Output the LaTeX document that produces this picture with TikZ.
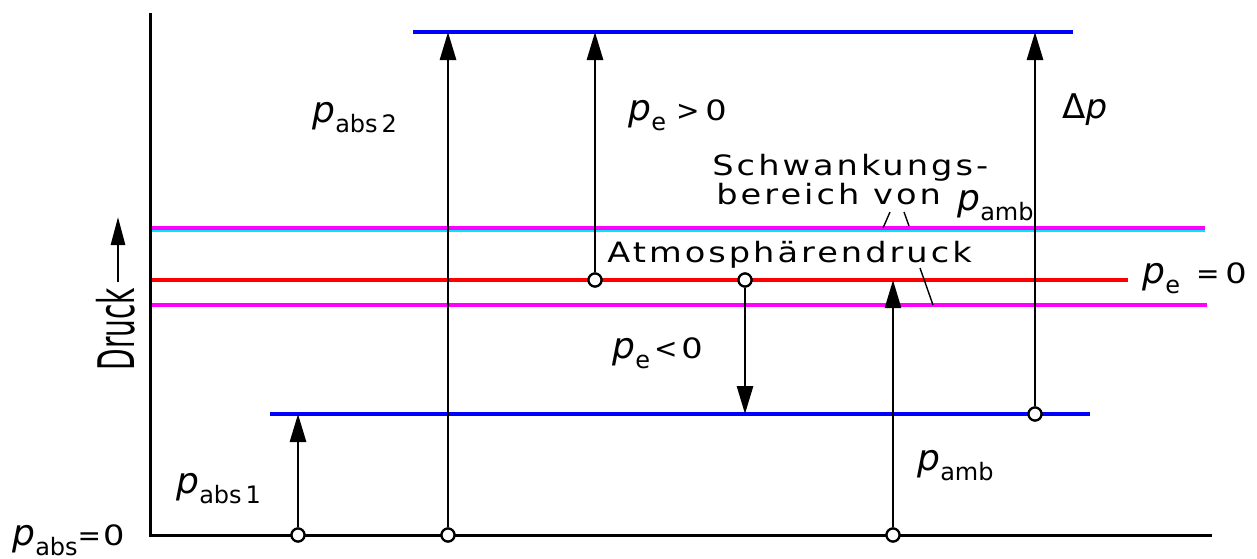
\documentclass[tikz,border=0pt]{standalone}
\usepackage{fontspec}
\setmainfont{DejaVu Sans}
\newfontfamily\spacedfont[LetterSpace=9]{DejaVu Sans}
\usetikzlibrary{arrows.meta}
\newcommand\plab[1]{{\fontsize{18}{18}\selectfont\itshape p}\raisebox{-5pt}{\fontsize{12}{12}\selectfont #1}}
\newcommand\txtsize{\fontsize{14}{13}\selectfont}
\newcommand\relsize{\fontsize{14}{15}\selectfont}
\newcommand\widen[1]{\scalebox{1.2}[1]{#1}}
\tikzset{
  axisline/.style={line width=1.5pt},
  bluelvl/.style={line width=2pt, draw={rgb,255:red,0;green,0;blue,255}},
  redlvl/.style={line width=2pt, draw={rgb,255:red,255;green,0;blue,0}},
  maglvl/.style={line width=2pt, draw={rgb,255:red,255;green,0;blue,255}},
  cyanlvl/.style={line width=0.6pt, draw={rgb,255:red,0;green,230;blue,255}},
  meas/.style={line width=1.4pt, -{Triangle[length=14pt,width=8pt]}},
  leader/.style={line width=0.7pt},
  dot/.style={circle, draw, line width=1.1pt, fill=white, inner sep=0pt, minimum size=6.5pt},
  lbl/.style={inner sep=0pt, anchor=base west},
  txt/.style={inner sep=0pt, anchor=base west, font=\spacedfont\txtsize},
}
\begin{document}
\begin{tikzpicture}[x=0.5pt,y=-0.5pt]
\useasboundingbox (0,0) rectangle (1257,558);
% axes
\coordinate (ytop) at (150,13);
\coordinate (orig) at (150,535);
\coordinate (xend) at (1212,535);
\draw[axisline] (ytop) -- (orig) -- (xend);
% level lines
\coordinate (b2l) at (413,32);  \coordinate (b2r) at (1073,32);
\coordinate (m1l) at (152,228); \coordinate (m1r) at (1205,228);
\coordinate (c1l) at (152,231); \coordinate (c1r) at (1205,231);
\coordinate (rl)  at (152,280); \coordinate (rr)  at (1128,280);
\coordinate (m2l) at (152,305); \coordinate (m2r) at (1207,305);
\coordinate (b1l) at (270,414); \coordinate (b1r) at (1090,414);
\draw[cyanlvl] (c1l) -- (c1r);
\draw[maglvl] (m1l) -- (m1r);
\draw[maglvl] (m2l) -- (m2r);
\draw[redlvl] (rl) -- (rr);
\draw[bluelvl] (b2l) -- (b2r);
\draw[bluelvl] (b1l) -- (b1r);
% measuring arrows
\node[dot] (d1) at (298,535) {};
\coordinate (t1) at (298,414);
\node[dot] (d2) at (448,535) {};
\coordinate (t2) at (448,32);
\node[dot] (d3) at (595,280) {};
\coordinate (t3) at (595,32);
\node[dot] (d4) at (745,280) {};
\coordinate (t4) at (745,414);
\node[dot] (d5) at (893,535) {};
\coordinate (t5) at (893,280);
\node[dot] (d6) at (1035,414) {};
\coordinate (t6) at (1035,32);
\draw[meas] (d1) -- (t1);
\draw[meas] (d2) -- (t2);
\draw[meas] (d3) -- (t3);
\draw[meas] (d4) -- (t4);
\draw[meas] (d5) -- (t5);
\draw[meas] (d6) -- (t6);
\node[dot] at (d1) {};
\node[dot] at (d2) {};
\node[dot] at (d3) {};
\node[dot] at (d4) {};
\node[dot] at (d5) {};
\node[dot] at (d6) {};
% leader lines
\coordinate (la1) at (890,212); \coordinate (la2) at (883,228);
\coordinate (lb1) at (904,212); \coordinate (lb2) at (909,226);
\coordinate (lb3) at (920,268); \coordinate (lb4) at (933,305);
\draw[leader] (la1) -- (la2);
\draw[leader] (lb1) -- (lb2);
\draw[leader] (lb3) -- (lb4);
% labels
\node[lbl] (pabs2) at (312,122) {\plab{abs\,2}};
\node[lbl] (pegt) at (628,120) {\plab{e}\relsize\hspace{5pt}>\hspace{3pt}\widen{0}};
\node[lbl] (dp) at (1062,118) {\fontsize{17}{17}\selectfont Δ\itshape p};
\node[inner sep=0pt, anchor=north west, align=left, font=\spacedfont\txtsize] (schw) at (712,154)
  {\widen{Schwankungs-}\\\hspace{2pt}\widen{bereich von}};
\node[lbl] (schwp) at (957,210) {\plab{amb}};
\node[txt] (atm) at (607,262) {\widen{Atmosphärendruck}};
\node[lbl] (pe0) at (1142,283) {\plab{e}\relsize\hspace{8pt}=\hspace{3pt}\widen{0}};
\node[lbl] (pelt) at (612,358) {\plab{e}\relsize\hspace{2pt}<\hspace{2pt}\widen{0}};
\node[lbl] (pamb) at (917,470) {\plab{amb}};
\node[lbl] (pabs1) at (176,493) {\plab{abs\,1}};
\node[lbl] (pabs0) at (12,545) {\plab{abs}\relsize=\hspace{1pt}\widen{0}};
% Druck label
\node[inner sep=0pt, rotate=90, anchor=north] (druck) at (96,329) {\scalebox{1}[1.8]{\fontsize{14}{15}\selectfont Druck}};
\coordinate (darr) at (118,217);
\draw[line width=1.4pt, -{Triangle[length=14pt,width=7pt]}] (118,282) -- (darr);
\end{tikzpicture}
\end{document}
